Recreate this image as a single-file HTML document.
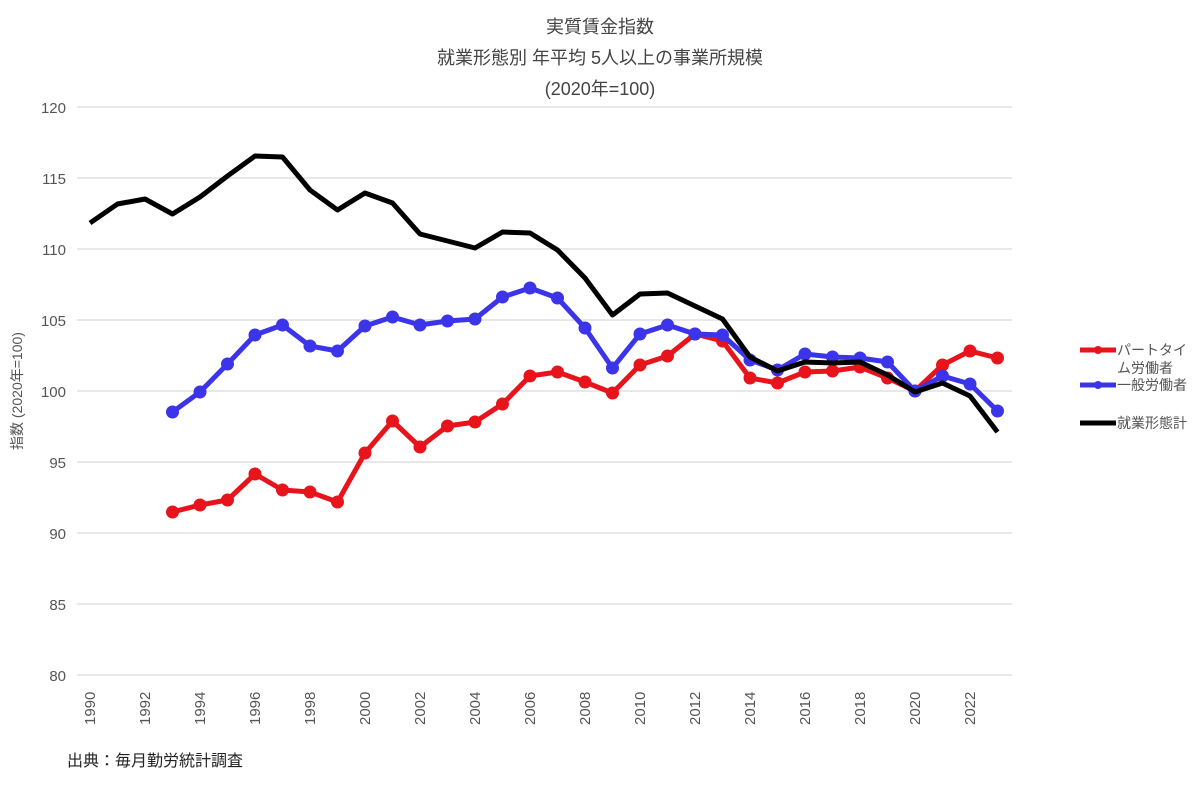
<!DOCTYPE html>
<html><head><meta charset="utf-8"><style>
body{margin:0;background:#fff;width:1200px;height:782px;overflow:hidden}
text{font-family:"Liberation Sans","Noto Sans CJK JP",sans-serif}
</style></head><body>
<svg id="s" width="1200" height="782" xmlns="http://www.w3.org/2000/svg">
<g font-size="18" fill="#444" text-anchor="middle">
<text x="600" y="33">実質賃金指数</text>
<text x="600" y="64">就業形態別 年平均 5人以上の事業所規模</text>
<text x="600" y="95">(2020年=100)</text>
</g>
<g id="grid"></g>
<g id="lines"></g>
<text transform="translate(22,391) rotate(-90)" font-size="14" fill="#555" text-anchor="middle">指数 (2020年=100)</text>
<text x="67" y="766" font-size="16" fill="#222">出典：毎月勤労統計調査</text>
<g font-size="14" fill="#555">
<line x1="1080" y1="350" x2="1116" y2="350" stroke="#e8141c" stroke-width="5"/><circle cx="1098" cy="350" r="4" fill="#e8141c"/>
<text x="1117" y="355">パートタイ</text><text x="1117" y="373">ム労働者</text>
<line x1="1080" y1="385" x2="1116" y2="385" stroke="#3b34e8" stroke-width="5"/><circle cx="1098" cy="385" r="4" fill="#3b34e8"/>
<text x="1117" y="390">一般労働者</text>
<line x1="1080" y1="423" x2="1116" y2="423" stroke="#000" stroke-width="5"/>
<text x="1117" y="428">就業形態計</text>
</g>
</svg>
<script>
const N="http://www.w3.org/2000/svg";
function el(p,t,a,txt){const e=document.createElementNS(N,t);for(const k in a)e.setAttribute(k,a[k]);if(txt!==undefined)e.textContent=txt;p.appendChild(e);return e;}
const g=document.getElementById('grid'),L=document.getElementById('lines');
for(let v=80;v<=120;v+=5){const y=107+(120-v)*14.2;el(g,'line',{x1:77,x2:1012,y1:y,y2:y,stroke:'#d9d9d9','stroke-width':1.3});el(g,'text',{x:66,y:y+6,'font-size':15,fill:'#555','text-anchor':'end'},v);}
const X=yr=>90+27.5*(yr-1990);
for(let yr=1990;yr<=2022;yr+=2){el(g,'text',{transform:`translate(${X(yr)+5},725) rotate(-90)`,'font-size':15,fill:'#555'},yr);}
const black=[223,204,199,214,197,176,156,157,190,210,193,203,234,241,248,232,233,250,278,315,294,293,306,319,357,371,362,363,362,375,392,383,396,432];
const red=[512,505,500,474,490,492,502,453,421,447,426,422,404,376,372,382,393,365,356,334,341,378,383,372,371,367,378,391,365,351,358];
const blue=[412,392,364,335,325,346,351,326,317,325,321,319,297,288,298,328,368,334,325,334,335,360,370,354,357,358,362,391,376,384,411];
function draw(d,start,c,dots){const pts=d.map((y,i)=>X(start+i)+','+y).join(' ');el(L,'polyline',{points:pts,fill:'none',stroke:c,'stroke-width':5,'stroke-linejoin':'round'});if(dots)d.forEach((y,i)=>el(L,'circle',{cx:X(start+i),cy:y,r:6.5,fill:c}));}
draw(red,1993,'#e8141c',true);
draw(blue,1993,'#3b34e8',true);
draw(black,1990,'#000',false);
</script>
</body></html>
